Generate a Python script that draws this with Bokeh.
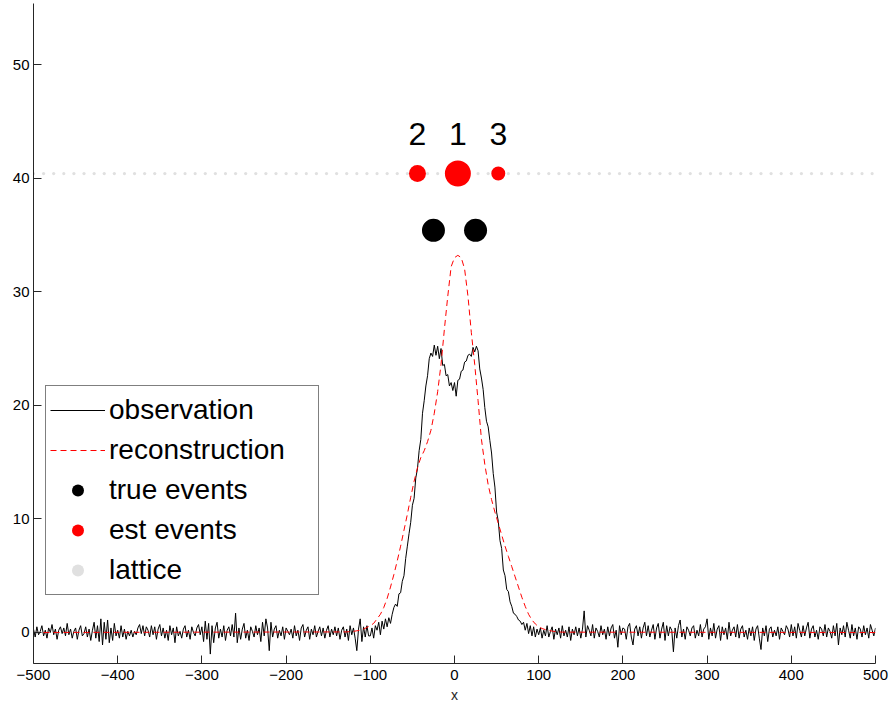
import numpy as np
from bokeh.plotting import figure
from bokeh.models import Range1d, FixedTicker, Legend, LegendItem
from bokeh.core.properties import value
from bokeh.embed import file_html
from bokeh.resources import INLINE

# ---------------- data ----------------
# observation, sampled every 2 units from -500 to 500
obs_left = [
    0.3, -0.4, 0.5, -0.2, 0.1, 0.6, -0.3, 0.2, -0.5, 0.4, 0.0, 0.7, -0.2, 0.3, -0.6, 0.2, 0.5, -0.1, 0.4, -0.3,
    0.8, -0.2, 0.3, -0.5, 0.1, 0.4, -0.6, 0.2, 0.6, -0.3, -0.1, 0.5, -0.4, 0.3, -0.7, 0.2, 0.9, -0.5, 0.6, -0.8,
    1.2, -1.1, 0.9, -0.6, 1.1, -0.9, 0.4, -0.7, 0.8, -0.3, 0.2, -0.5, 0.6, -0.4, 0.3, -0.6, 0.1, -0.3, 0.2, -0.4,
    0.1, -0.2, 0.4, 0.7, -0.1, 0.6, -0.3, 0.5, 0.2, -0.4, 0.6, -0.2, 0.5, -0.6, 0.3, 0.7, -0.3, 0.4, -0.5, 0.2,
    -0.7, 0.6, -0.2, 0.4, -0.9, 0.5, -0.3, 0.1, -0.5, 0.3, 0.6, -0.4, 0.2, -0.6, 0.5, 0.0, -0.3, 0.4, 0.7, -0.2,
    0.5, -0.8, 1.0, -0.6, 0.8, -1.9, 0.6, -0.9, 0.4, 0.9, -0.5, 0.3, -0.4, 0.6, -0.7, 0.2, 0.5, -0.3, 0.7, -0.4,
    1.7, -0.9, 0.4, -0.6, 0.3, 0.8, -0.5, 0.2, -0.7, 0.5, 0.1, -0.4, 0.6, -0.2, 0.4, -0.8, 0.9, -0.3, 1.2, 0.4,
    -1.6, 0.9, -0.4, 0.3, 0.6, -0.5, 0.2, -0.3, 0.5, -0.6, 0.4, 0.1, -0.2, 0.3, -0.5, 0.6, -0.3, 0.2, -0.7, 0.4,
    0.7, -0.4, 0.2, 0.5, -0.6, 0.3, -0.2, 0.6, -0.4, 0.1, 0.5, -0.3, 0.4, -0.5, 0.2, 0.6, -0.4, 0.3, -0.2, 0.5,
    -0.3, 0.4, -0.6, 0.2, 0.5, -0.4, 0.3, -0.7, 0.6, -0.2, 0.4, -0.5, -1.6, 0.3, 1.2, -0.8, 0.5, -0.4, 0.6, -0.3,
]
obs_peak = [
    -0.3, 0.4, -0.5, 0.6, 0.2, 0.9, -0.2, 1.0, 0.3, 1.2, 0.5, 1.3, 0.8, 1.6, 2.2, 2.5, 2.3, 3.4, 3.5, 4.5,
    5.0, 6.5, 7.6, 8.7, 9.7, 11.2, 11.8, 13.6, 14.4, 16.0, 17.0, 19.3, 20.4, 21.7, 22.6, 24.1, 24.6, 24.3, 25.3, 24.4,
    25.2, 24.1, 25.0, 23.5, 23.6, 22.6, 22.7, 21.7, 22.0, 21.3, 22.0, 20.8, 22.2, 22.3, 23.0, 23.1, 23.8, 23.9, 24.4, 24.5,
    24.3, 25.1, 24.7, 25.2, 24.8, 23.2, 22.4, 21.4, 19.8, 18.6, 18.1, 16.9, 15.8, 14.0, 12.8, 10.6, 9.8, 8.1, 7.4, 5.5,
    5.0, 3.8, 3.6, 2.7, 2.3, 1.7, 1.6, 1.4, 1.1, 1.0, 0.7, 0.9, 0.2, 0.8, -0.1, 0.6, -0.3, 0.5, -0.4, 0.3,
    -0.2,
]
obs_right = [
    0.4, -0.5, 0.2, -0.3, 0.6, -0.4, 0.1, 0.5, -0.6, 0.3, -0.2, 0.4, -0.5, 0.6, -0.3, 0.2, -0.4, 0.5, -0.7, 0.3,
    -0.2, 0.5, -0.3, 0.4, -0.5, 0.3, 1.9, -0.4, 0.6, 0.2, -0.3, 0.7, -0.5, 0.4, 0.1, -0.4, 0.6, -0.2, 0.3, -0.6,
    0.5, -0.3, 0.4, 0.7, -0.5, 0.2, -1.3, 0.6, -0.2, 0.4, 0.3, -0.6, 0.5, 0.8, -0.4, -1.1, 0.3, 0.6, -0.3, 0.5,
    -0.5, 0.4, 0.9, -0.3, 0.6, -0.4, 0.2, 0.7, -0.6, 0.4, 0.8, -0.5, 0.3, 0.9, -0.7, 0.6, -0.3, 0.5, 0.2, -1.7,
    0.4, -0.5, 0.6, 1.1, -0.4, 0.3, -0.6, 0.5, 0.2, -0.3, 0.4, 0.6, -0.5, 0.2, -0.3, 0.7, -0.4, 0.3, 0.5, 1.2,
    -0.6, 0.4, -0.3, 0.8, -0.5, 0.3, 0.6, -0.7, 0.5, -0.2, 0.4, -0.6, 0.9, -0.3, 0.2, 0.5, -0.4, 0.7, -0.5, 0.3,
    0.6, -0.4, 0.2, -0.6, 0.4, -0.3, 0.5, -0.7, 0.3, 0.6, -0.5, -1.5, 0.4, -0.3, 0.6, -0.8, 0.3, 0.5, -0.4, 0.2,
    -0.3, 0.5, -0.6, 0.4, 0.1, -0.2, 0.6, 0.3, -0.4, 0.7, -0.3, 0.5, -0.5, 0.8, 0.2, -0.4, 0.6, -0.3, 0.4, 0.9,
    -0.5, 0.3, 0.6, -0.4, 0.2, -0.6, 0.5, 0.3, -0.3, 0.7, -0.4, 0.4, 0.1, -0.5, 0.6, -0.3, 0.8, -1.1, 0.4, -0.2,
    0.6, -0.4, 0.9, 0.2, -0.5, 0.7, -0.3, 0.4, -0.6, 0.5, 0.3, -0.4, 0.6, -0.2, 0.4, -0.5, 0.7, 0.2, -0.3, 0.4,
]
obs_y = obs_left + obs_peak + obs_right
obs_x = list(range(-500, 501, 2))

# reconstruction (red dashed)
rec_x = [-500, -128, -124, -120, -116, -112, -108, -104, -100, -96, -92, -88, -84, -80, -76, -72, -68,
         -64, -60, -56, -52, -48, -44, -40, -36, -32, -28, -24, -20, -16, -12, -8, -4, 0, 4, 8, 12,
         16, 20, 24, 28, 32, 36, 40, 44, 48, 52, 56, 60, 64, 68, 72, 76, 80, 84, 88, 92, 96, 100,
         104, 108, 112, 116, 120, 124, 128, 500]
rec_y = [0.0, 0.05, 0.08, 0.1, 0.15, 0.2, 0.3, 0.45, 0.6, 0.8, 1.2, 1.6, 2.2, 3.0, 4.0, 5.1, 6.3,
         7.6, 9.0, 10.4, 11.9, 13.3, 14.5, 15.4, 16.0, 16.8, 17.8, 19.3, 21.2, 23.6, 26.7, 29.6, 32.2, 33.0, 33.2, 33.0, 32.0,
         29.6, 26.4, 23.6, 20.4, 17.0, 14.8, 13.0, 11.7, 10.6, 9.6, 8.6, 7.6, 6.7, 5.8, 4.9, 4.0, 3.1, 2.3, 1.6, 1.1, 0.75, 0.5,
         0.35, 0.25, 0.18, 0.12, 0.08, 0.05, 0.03, 0.0]

# true events
true_x = [-25, 25]
true_y = [35.4, 35.4]

# estimated events
est_x = [4, -44, 52]
est_y = [40.4, 40.4, 40.4]
est_labels = ["1", "2", "3"]

# lattice
lattice_x = [-500, -488, -476, -464, -452, -440, -428, -416, -404, -392, -380, -368, -356, -344, -332,
             -320, -308, -296, -284, -272, -260, -248, -236, -224, -212, -200, -188, -176, -164, -152,
             -140, -128, -116, -104, -92, -80, -68, -56, -44, -32, -20, -8, 4, 16, 28, 40, 52, 64, 76,
             88, 100, 112, 124, 136, 148, 160, 172, 184, 196, 208, 220, 232, 244, 256, 268, 280, 292,
             304, 316, 328, 340, 352, 364, 376, 388, 400, 412, 424, 436, 448, 460, 472, 484, 496]
lattice_level = 40.4

x_ticks = [-500, -400, -300, -200, -100, 0, 100, 200, 300, 400, 500]
y_ticks = [0, 10, 20, 30, 40, 50]

# ---------------- styles ----------------
est_sizes = [26, 17, 14]
label_y = 43.9
FONT = "Liberation Sans"

p = figure(width=891, height=709,
           x_range=Range1d(-500, 500), y_range=Range1d(-2.73, 55.37),
           output_backend="svg", toolbar_location=None,
           min_border_left=33, min_border_right=16, min_border_top=3, min_border_bottom=46,
           outline_line_color=None, background_fill_color="white", border_fill_color="white")
p.xgrid.visible = False
p.ygrid.visible = False

r_lat = p.scatter(x=lattice_x, y=[lattice_level] * len(lattice_x), size=3.2,
                  color="#e0e0e0", line_color=None)
r_obs = p.line(x=obs_x, y=obs_y, line_color="black", line_width=1)
r_rec = p.line(x=rec_x, y=rec_y, line_color="red", line_width=1, line_dash="6 4")
r_true = p.scatter(x=true_x, y=true_y, size=23, color="black", line_color=None)
r_est = p.scatter(x=est_x, y=est_y, size=est_sizes, color="red", line_color=None)
p.text(x=est_x, y=[label_y] * 3, text=est_labels, text_font=value(FONT),
       text_font_size="32px", text_align="center", text_baseline="alphabetic",
       text_color="black")

minus = "\u2212"
for ax, ticks in ((p.xaxis[0], x_ticks), (p.yaxis[0], y_ticks)):
    ax.ticker = FixedTicker(ticks=ticks)
    ax.major_label_overrides = {t: (minus + str(abs(t)) if t < 0 else str(t)) for t in ticks}
    ax.minor_tick_line_color = None
    ax.major_tick_in = 8
    ax.major_tick_out = 0
    ax.axis_line_color = "#262626"
    ax.major_tick_line_color = "#262626"
    ax.major_label_text_font = FONT
    ax.major_label_text_font_size = "15px"
    ax.major_label_text_color = "black"

p.xaxis.major_label_standoff = 6
p.yaxis.major_label_standoff = 4
p.xaxis.axis_label = "x"
p.xaxis.axis_label_text_font = FONT
p.xaxis.axis_label_text_font_size = "14px"
p.xaxis.axis_label_text_font_style = "normal"
p.xaxis.axis_label_text_color = "#262626"
p.xaxis.axis_label_standoff = 4

legend = Legend(items=[
    LegendItem(label="observation", renderers=[r_obs]),
    LegendItem(label="reconstruction", renderers=[r_rec]),
    LegendItem(label="true events", renderers=[r_true]),
    LegendItem(label="est events", renderers=[r_est]),
    LegendItem(label="lattice", renderers=[r_lat]),
], location=(12, 68))
legend.margin = 0
legend.padding = 4
legend.spacing = 0
legend.glyph_width = 55
legend.glyph_height = 30
legend.label_height = 40
legend.label_width = 205
legend.label_standoff = 4
legend.label_text_font = FONT
legend.label_text_font_size = "28px"
legend.label_text_color = "black"
legend.border_line_color = "black"
legend.border_line_width = 1
legend.background_fill_color = "white"
legend.background_fill_alpha = 1.0
p.add_layout(legend)

open("out.html", "w").write(file_html(p, INLINE))
